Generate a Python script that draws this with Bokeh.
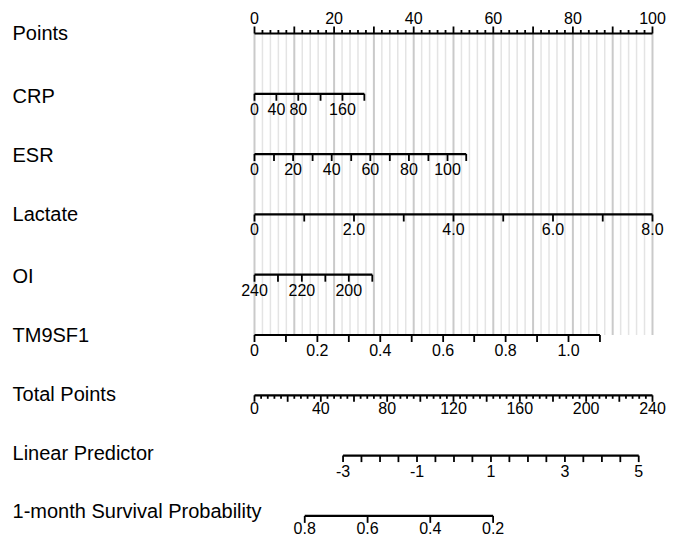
from bokeh.plotting import figure
from bokeh.models import Range1d, ColumnDataSource
from bokeh.embed import file_html
from bokeh.resources import INLINE
from bokeh.core.properties import value

# ---------------- data ----------------
row_names = ["Points", "CRP", "ESR", "Lactate", "OI", "TM9SF1",
             "Total Points", "Linear Predictor", "1-month Survival Probability"]

points_ticks = list(range(0, 101, 2))
points_major = list(range(0, 101, 10))
points_labels = list(range(0, 101, 20))

crp_values = [0, 40, 80, 120, 160, 200]
crp_points = [0, 5.5, 11.0, 16.6, 22.1, 27.6]
crp_labels = ["0", "40", "80", "", "160", ""]

esr_values = [0, 10, 20, 30, 40, 50, 60, 70, 80, 90, 100, 110]
esr_points = [0, 4.9, 9.7, 14.6, 19.4, 24.3, 29.1, 34.0, 38.8, 43.7, 48.5, 53.2]
esr_labels = ["0", "", "20", "", "40", "", "60", "", "80", "", "100", ""]

lactate_values = [0, 1, 2, 3, 4, 5, 6, 7, 8]
lactate_points = [0, 12.5, 25.0, 37.5, 50.0, 62.5, 75.0, 87.5, 100.0]
lactate_labels = ["0", "", "2.0", "", "4.0", "", "6.0", "", "8.0"]

oi_values = [240, 230, 220, 210, 200, 190]
oi_points = [0, 5.9, 11.9, 17.8, 23.7, 29.6]
oi_labels = ["240", "", "220", "", "200", ""]

tm9sf1_values = [0, 0.1, 0.2, 0.3, 0.4, 0.5, 0.6, 0.7, 0.8, 0.9, 1.0, 1.1]
tm9sf1_points = [0, 7.9, 15.8, 23.7, 31.6, 39.5, 47.4, 55.2, 63.1, 71.0, 78.9, 86.8]
tm9sf1_labels = ["0", "", "0.2", "", "0.4", "", "0.6", "", "0.8", "", "1.0", ""]

total_max = 240
total_ticks = list(range(0, 241, 4))
total_major = list(range(0, 241, 20))
total_labels = list(range(0, 241, 40))

lp_values = [-3, -2.5, -2, -1.5, -1, -0.5, 0, 0.5, 1, 1.5, 2, 2.5, 3, 3.5, 4, 4.5, 5]
lp_total_points = [53.4, 64.5, 75.7, 86.8, 98.0, 109.1, 120.3, 131.4, 142.6,
                   153.7, 164.9, 176.0, 187.2, 198.3, 209.5, 220.6, 231.7]
lp_labels = ["-3", "", "", "", "-1", "", "", "", "1", "", "", "", "3", "", "", "", "5"]

surv_values = [0.8, 0.6, 0.4, 0.2]
surv_total_points = [30.3, 68.2, 106.0, 143.9]
surv_labels = ["0.8", "0.6", "0.4", "0.2"]

# ---------------- styling constants ----------------
FONT = value("Liberation Sans")
PX_PER_ROW = 60.3
TICK_FS = value("16px")
NAME_FS = value("20px")
AXIS_W = 2.2
TICK_W = 1.8

p = figure(width=673, height=540, output_backend="svg", toolbar_location=None,
           x_axis_location=None, y_axis_location=None, min_border=0,
           x_range=Range1d(-63.82, 105.28), y_range=Range1d(8.408, -0.547))
p.outline_line_color = None
p.grid.visible = False
p.background_fill_color = "white"
p.border_fill_color = "white"


def tp_to_pts(tp):
    return [v * 100.0 / total_max for v in tp]


# ---------- grid lines (Points row down to TM9SF1 row) ----------
minor_grid = [x for x in points_ticks if x not in points_major]
p.segment(x0=minor_grid, x1=minor_grid, y0=[0] * len(minor_grid), y1=[5] * len(minor_grid),
          line_color="#E4E4E4", line_width=1.5)
p.segment(x0=points_major, x1=points_major, y0=[0] * len(points_major), y1=[5] * len(points_major),
          line_color="#CACACA", line_width=2)


def draw_line(row, xs):
    p.segment(x0=[min(xs)], x1=[max(xs)], y0=[row], y1=[row],
              line_color="black", line_width=AXIS_W)


def draw_ticks(row, xs, length_px):
    d = length_px / PX_PER_ROW
    p.segment(x0=xs, x1=xs, y0=[row] * len(xs), y1=[row + d] * len(xs),
              line_color="black", line_width=TICK_W)


def draw_labels(row, xs, labels, offset_px):
    src = ColumnDataSource(dict(x=xs, y=[row] * len(xs), t=labels))
    p.text(x="x", y="y", text="t", source=src, text_font=FONT, text_font_size=TICK_FS,
           text_align="center", text_baseline="alphabetic", y_offset=offset_px,
           text_color="black")


# Row 0: Points (ticks upwards, labels above)
draw_line(0, points_ticks)
draw_ticks(0, [x for x in points_ticks if x not in points_major], -3.5)
draw_ticks(0, points_major, -7)
draw_labels(0, points_labels, [str(v) for v in points_labels], -15)

# Variable rows
rows = [
    (1, crp_points, crp_labels),
    (2, esr_points, esr_labels),
    (3, lactate_points, lactate_labels),
    (4, oi_points, oi_labels),
    (5, tm9sf1_points, tm9sf1_labels),
]
for r, xs, labs in rows:
    draw_line(r, xs)
    draw_ticks(r, xs, 7)
    draw_labels(r, xs, labs, 15)

# Row 6: Total Points
tx = tp_to_pts(total_ticks)
draw_line(6, tx)
draw_ticks(6, tp_to_pts([v for v in total_ticks if v not in total_major]), 3.5)
draw_ticks(6, tp_to_pts(total_major), 6.5)
draw_labels(6, tp_to_pts(total_labels), [str(v) for v in total_labels], 12.5)

# Row 7: Linear Predictor
lx = tp_to_pts(lp_total_points)
draw_line(7, lx)
draw_ticks(7, lx, 6.5)
draw_labels(7, lx, lp_labels, 15)

# Row 8: Survival probability
sx = tp_to_pts(surv_total_points)
draw_line(8, sx)
draw_ticks(8, sx, 7)
draw_labels(8, sx, surv_labels, 12.5)

# Row names
name_offsets = [0, 2, 1, 0, 1, 0, -1, -3, -4.5]
for i, name in enumerate(row_names):
    p.text(x=[-60.8], y=[i], text=[name], text_font=FONT, text_font_size=NAME_FS,
           text_align="left", text_baseline="alphabetic", y_offset=name_offsets[i],
           text_color="black")

open("out.html", "w").write(file_html(p, INLINE))
